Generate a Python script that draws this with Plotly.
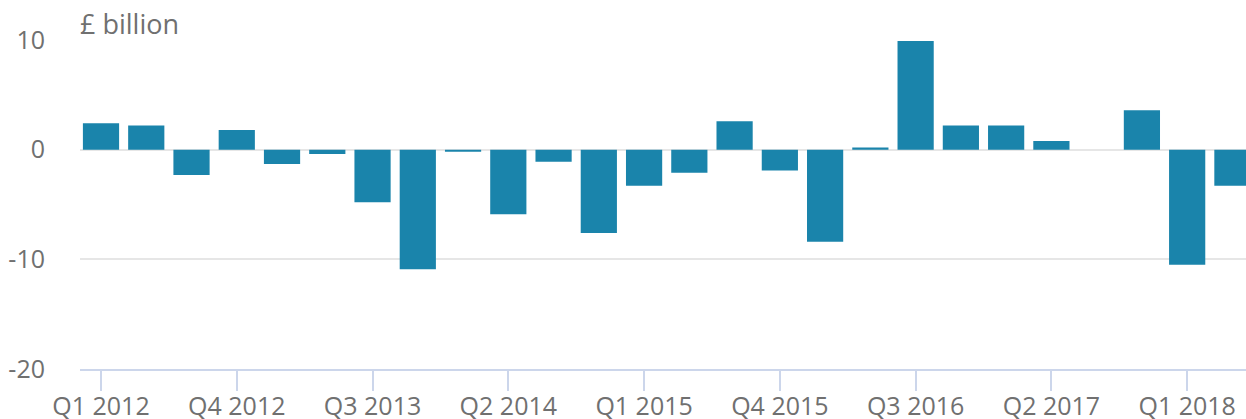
import plotly.graph_objects as go

quarters = [
    "Q1 2012", "Q2 2012", "Q3 2012", "Q4 2012",
    "Q1 2013", "Q2 2013", "Q3 2013", "Q4 2013",
    "Q1 2014", "Q2 2014", "Q3 2014", "Q4 2014",
    "Q1 2015", "Q2 2015", "Q3 2015", "Q4 2015",
    "Q1 2016", "Q2 2016", "Q3 2016", "Q4 2016",
    "Q1 2017", "Q2 2017", "Q3 2017", "Q4 2017",
    "Q1 2018", "Q2 2018",
]
values = [
    2.4, 2.2, -2.3, 1.8,
    -1.3, -0.4, -4.8, -10.9,
    -0.2, -5.9, -1.1, -7.6,
    -3.3, -2.1, 2.6, -1.9,
    -8.4, 0.2, 9.9, 2.2,
    2.2, 0.8, 0.0, 3.6,
    -10.5, -3.3,
]
tick_labels = ["Q1 2012", "Q4 2012", "Q3 2013", "Q2 2014", "Q1 2015",
               "Q4 2015", "Q3 2016", "Q2 2017", "Q1 2018"]
y_ticks = [-20, -10, 0, 10]
y_tick_text = ["-20", "-10", "0", "10"]
y_label = "£ billion"

FONT = "Open Sans"
TEXT = "#707070"

fig = go.Figure()
fig.add_trace(go.Bar(
    x=quarters, y=values,
    marker=dict(color="#1a84ab", line=dict(width=0)),
    width=0.8,
    hoverinfo="x+y",
))

fig.update_layout(
    width=1246, height=419,
    margin=dict(l=80, r=0, t=40, b=50),
    paper_bgcolor="white", plot_bgcolor="white",
    showlegend=False,
    font=dict(family=FONT, color=TEXT, size=25),
    xaxis=dict(
        type="category",
        automargin=False,
        range=[-0.464, 25.30],
        tickmode="array", tickvals=tick_labels, ticktext=tick_labels,
        ticks="outside", ticklen=20, tickwidth=1.5, tickcolor="#ccd6eb",
        showline=True, linecolor="#ccd6eb", linewidth=1.5,
        showgrid=False,
        ticklabelstandoff=-6,
        tickfont=dict(family=FONT, size=25, color=TEXT),
    ),
    yaxis=dict(
        automargin=False,
        range=[-20, 10],
        tickmode="array", tickvals=y_ticks, ticktext=y_tick_text,
        showgrid=True, gridcolor="#e6e6e6", gridwidth=1.5,
        zeroline=True, zerolinecolor="#e6e6e6", zerolinewidth=2,
        showline=False, ticks="",
        ticklabelstandoff=34,
        tickfont=dict(family=FONT, size=25, color=TEXT),
    ),
    annotations=[dict(
        text=y_label, xref="paper", yref="paper", x=0, y=1,
        xanchor="left", yanchor="bottom", showarrow=False,
        xshift=-2, yshift=-4,
        font=dict(family=FONT, size=27, color=TEXT),
    )],
)

fig.write_html(
    "out.html",
    config={"displayModeBar": False},
    post_script="document.body.style.margin='0';document.body.style.overflow='hidden';",
)
